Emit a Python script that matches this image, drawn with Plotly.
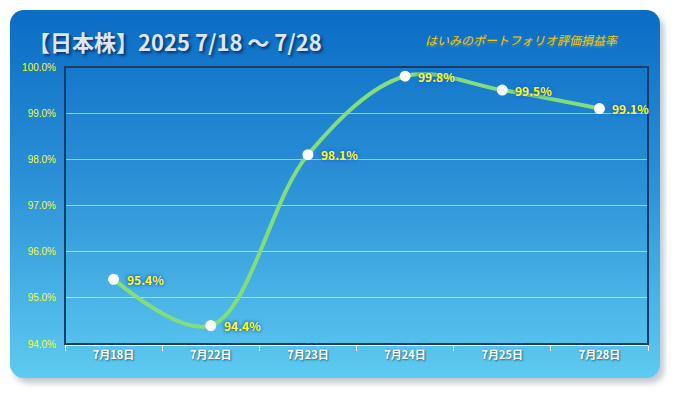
import base64
import plotly.graph_objects as go

categories = ["7月18日", "7月22日", "7月23日", "7月24日", "7月25日", "7月28日"]
values = [95.4, 94.4, 98.1, 99.8, 99.5, 99.1]
y_ticks = [94, 95, 96, 97, 98, 99, 100]
y_tick_labels = [f"{v:.1f}%" for v in y_ticks]
point_labels = [f"{v:.1f}%" for v in values]

# page offset (body margin of the html page)
O = 8
W, H = 675 - O, 393 - O
L, R, T, B = 65 - O, 675 - 648, 67 - O, 393 - 344
PW, PH = W - L - R, H - T - B

svg = f'''<svg xmlns="http://www.w3.org/2000/svg" width="{W}" height="{H}" viewBox="0 0 {W} {H}">
<defs>
<linearGradient id="g" x1="0" y1="0" x2="0" y2="1">
<stop offset="0" stop-color="#0a6cc5"/>
<stop offset="0.45" stop-color="#2a8fd6"/>
<stop offset="1" stop-color="#5ecbf1"/>
</linearGradient>
<filter id="s" x="-10%" y="-10%" width="120%" height="130%"><feGaussianBlur stdDeviation="3"/></filter>
</defs>
<rect x="{10 - O + 4}" y="{10 - O + 5}" width="650" height="368" rx="14" fill="#8a9aa8" opacity="0.55" filter="url(#s)"/>
<rect x="{10 - O}" y="{10 - O}" width="650" height="368" rx="14" fill="url(#g)"/>
</svg>'''
uri = "data:image/svg+xml;base64," + base64.b64encode(svg.encode()).decode()

fig = go.Figure()
fig.add_trace(go.Scatter(
    x=categories, y=values,
    mode="lines+markers",
    line=dict(shape="spline", smoothing=1.0, color="#82de7a", width=4),
    marker=dict(size=11, color="white", line=dict(width=0)),
    cliponaxis=False,
    hoverinfo="skip",
))

label_annotations = [
    dict(x=c, y=v, xref="x", yref="y", text=t, showarrow=False,
         xanchor="left", yanchor="middle", xshift=11, yshift=0,
         font=dict(family="Noto Sans CJK JP, Noto Sans", size=12, color="#ffff00",
                   weight="bold",
                   shadow="0px 0px 3px #1e5fe0, 0px 0px 4px #1e5fe0"))
    for c, v, t in zip(categories, values, point_labels)
]

fig.update_layout(
    width=W, height=H,
    margin=dict(l=L, r=R, t=T, b=B, pad=0),
    paper_bgcolor="white",
    plot_bgcolor="rgba(0,0,0,0)",
    showlegend=False,
    images=[dict(source=uri, xref="paper", yref="paper",
                 x=-L / PW, y=1 + T / PH, sizex=W / PW, sizey=H / PH,
                 xanchor="left", yanchor="top", sizing="stretch", layer="below")],
    xaxis=dict(
        type="category", range=[-0.5, 5.5], showgrid=False,
        tickson="boundaries", ticks="outside", ticklen=5, tickcolor="white", tickwidth=1,
        showline=True, linecolor="white", linewidth=2,
        tickfont=dict(family="Noto Sans CJK JP, Noto Sans", size=11, color="white",
                      weight="bold", shadow="1px 1px 2px rgba(0,0,0,0.5)"),
        fixedrange=True,
    ),
    yaxis=dict(
        range=[94, 100], tickvals=y_ticks, ticktext=y_tick_labels,
        showgrid=True, gridcolor="rgba(255,255,255,0.55)", gridwidth=1,
        zeroline=False, showline=False, ticks="", ticklabelstandoff=8,
        tickfont=dict(family="Liberation Sans, Arial", size=10, color="#f0ff20"),
        fixedrange=True,
    ),
    shapes=[
        dict(type="rect", xref="paper", yref="paper", x0=0, x1=1, y0=0, y1=1,
             line=dict(color="#173b6b", width=2), fillcolor="rgba(0,0,0,0)", layer="above"),
    ],
    annotations=label_annotations + [
        dict(text="【日本株】2025 7/18 ～ 7/28", xref="paper", yref="paper",
             x=(26 - 65) / PW, y=1 + (67 - 41) / PH, xanchor="left", yanchor="middle",
             showarrow=False,
             font=dict(family="Noto Sans CJK JP", size=22, color="#dde6f2", weight="bold",
                       shadow="2px 2px 3px rgba(0,0,40,0.6)")),
        dict(text="はいみのポートフォリオ評価損益率", xref="paper", yref="paper",
             x=(522 - 65) / PW, y=1 + (67 - 40) / PH, xanchor="center", yanchor="middle",
             showarrow=False,
             font=dict(family="Noto Sans CJK JP", size=12, color="#f7c600", style="italic",
                       shadow="0px 2px 2px rgba(255,220,0,0.3)")),
    ],
)

fig.write_html("out.html")
